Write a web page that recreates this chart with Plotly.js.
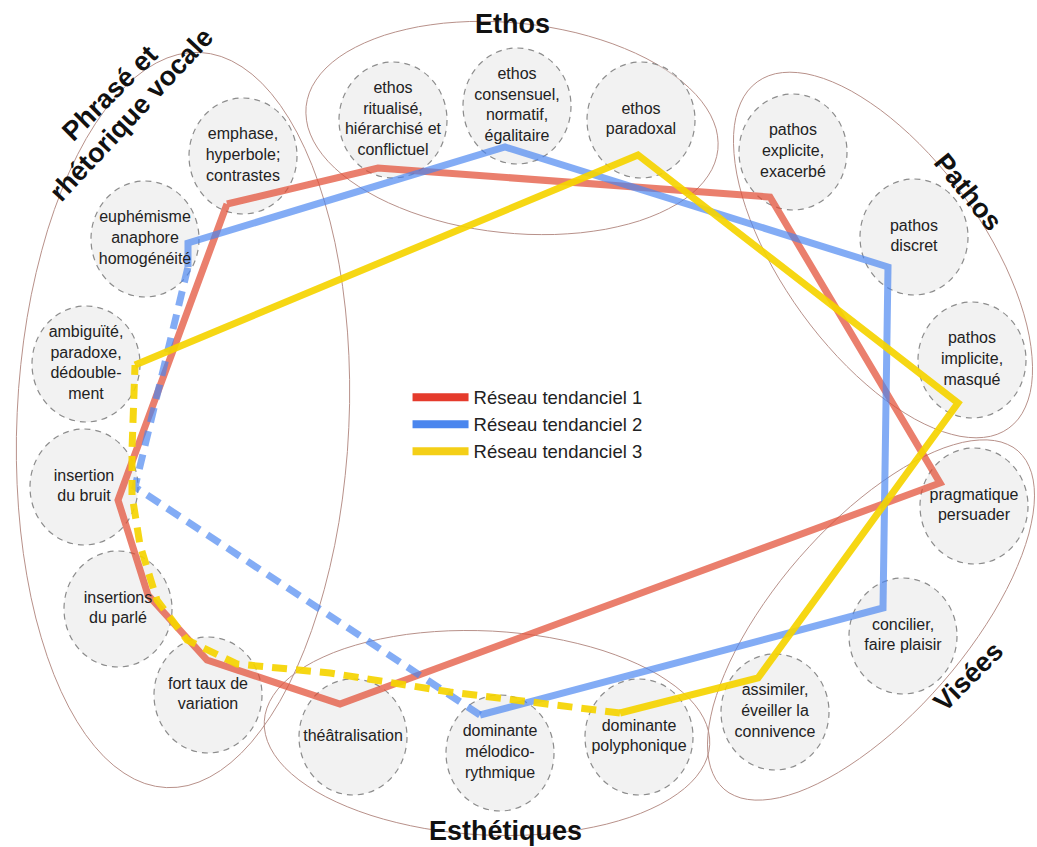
<!DOCTYPE html>
<html>
<head>
<meta charset="utf-8">
<script src="https://cdn.plot.ly/plotly-3.0.1.min.js"></script>
<style>
  html, body { margin: 0; padding: 0; background: #ffffff; }
  #chart { width: 1037px; height: 847px; }
</style>
</head>
<body>
<div id="chart"></div>
<script>
// --- nodes (the dashed blobs) ---
var nodeLabels = [
    'emphase,<br>hyperbole;<br>contrastes',
    'euphémisme<br>anaphore<br>homogénéité',
    'ambiguïté,<br>paradoxe,<br>dédouble-<br>ment',
    'insertion<br>du bruit',
    'insertions<br>du parlé',
    'fort taux de<br>variation',
    'théâtralisation',
    'dominante<br>mélodico-<br>rythmique',
    'dominante<br>polyphonique',
    'assimiler,<br>éveiller la<br>connivence',
    'concilier,<br>faire plaisir',
    'pragmatique<br>persuader',
    'pathos<br>implicite,<br>masqué',
    'pathos<br>discret',
    'pathos<br>explicite,<br>exacerbé',
    'ethos<br>paradoxal',
    'ethos<br>consensuel,<br>normatif,<br>égalitaire',
    'ethos<br>ritualisé,<br>hiérarchisé et<br>conflictuel'
];
var nodeX = [243, 145, 86, 84, 118, 208, 353, 500, 639, 775, 903, 974, 972, 914, 793, 641, 517, 393];
var nodeY = [156, 239, 364, 487, 609, 695, 737, 753, 737, 712, 636, 506, 360, 237, 152, 120, 106, 120];

// --- groups (thin ellipses) ---
var groupCx   = [183, 512, 883, 871, 487];
var groupCy   = [420, 128, 255, 620, 733];
var groupRx   = [166, 207, 214, 224, 223];
var groupRy   = [368, 105, 100, 95, 102];
var groupTilt = [2.6, 6, 54, -49, 3];

var titleText  = ['Phrasé et', 'rhétorique vocale', 'Ethos', 'Pathos', 'Visées', 'Esthétiques'];
var titleX     = [110, 131, 512, 968, 968, 505];
var titleY     = [93, 115, 24, 192, 677, 831];
var titleAngle = [-45, -47, 0, 51, -45, 0];

// --- networks ---
var seriesNames = ['Réseau tendanciel 1', 'Réseau tendanciel 2', 'Réseau tendanciel 3'];

var net1X = [227, 378, 770, 940, 340, 207, 148, 118, 227];
var net1Y = [204, 168, 197, 483, 704, 660, 595, 500, 204];

var net2SolidX = [188, 188, 505, 888, 883, 480];
var net2SolidY = [267, 243, 147, 267, 608, 715];
var net2DashX  = [480, 135, 188];
var net2DashY  = [715, 487, 267];

var net3SolidX = [135, 638, 958, 758, 620];
var net3SolidY = [365, 155, 403, 678, 713];
var net3DashX  = [620, 450, 330, 237, 187, 157, 140, 132, 132, 135];
var net3DashY  = [713, 692, 673, 664, 640, 600, 545, 495, 450, 365];

var fontFam = 'Liberation Sans, Arial, sans-serif';
var lineColours = ['rgba(226,78,52,0.72)', 'rgba(72,132,240,0.68)', 'rgba(245,212,0,0.92)'];
var legendColours = ['#e53b2c', '#4a86ee', '#f4cf17'];

function ellipsePath(cx, cy, rx, ry, deg) {
    var t = deg * Math.PI / 180;
    var pts = [];
    for (var i = 0; i <= 96; i++) {
        var a = 2 * Math.PI * i / 96;
        var ex = rx * Math.cos(a), ey = ry * Math.sin(a);
        var px = cx + ex * Math.cos(t) - ey * Math.sin(t);
        var py = cy + ex * Math.sin(t) + ey * Math.cos(t);
        pts.push((i ? 'L' : 'M') + px.toFixed(1) + ',' + py.toFixed(1));
    }
    return pts.join(' ') + ' Z';
}

var shapes = [];
for (var g = 0; g < groupCx.length; g++) {
    shapes.push({
        type: 'path', xref: 'x', yref: 'y', layer: 'below',
        path: ellipsePath(groupCx[g], groupCy[g], groupRx[g], groupRy[g], groupTilt[g]),
        line: {color: '#b8918a', width: 1}
    });
}
for (var n = 0; n < nodeX.length; n++) {
    shapes.push({
        type: 'circle', xref: 'x', yref: 'y', layer: 'below',
        x0: nodeX[n] - 54, x1: nodeX[n] + 54,
        y0: nodeY[n] - 58, y1: nodeY[n] + 58,
        fillcolor: 'rgba(226,226,226,0.45)',
        line: {color: '#8c8c8c', width: 1.2, dash: '6px,5px'}
    });
}

function netTrace(x, y, k, dashed) {
    return {
        x: x, y: y, type: 'scatter', mode: 'lines',
        showlegend: false, hoverinfo: 'skip',
        line: {color: lineColours[k], width: 7, dash: dashed ? '15px,9px' : 'solid'}
    };
}

var data = [
    netTrace(net1X, net1Y, 0, false),
    netTrace(net2SolidX, net2SolidY, 1, false),
    netTrace(net2DashX, net2DashY, 1, true),
    netTrace(net3DashX, net3DashY, 2, true),
    netTrace(net3SolidX, net3SolidY, 2, false)
];

// legend entries only
for (var k = 0; k < seriesNames.length; k++) {
    data.push({
        x: [null], y: [null], type: 'scatter', mode: 'lines',
        name: seriesNames[k], showlegend: true, hoverinfo: 'skip',
        line: {color: legendColours[k], width: 8}
    });
}

data.push({
    x: nodeX, y: nodeY, text: nodeLabels,
    type: 'scatter', mode: 'text', showlegend: false, hoverinfo: 'skip',
    textposition: 'middle center',
    textfont: {family: fontFam, size: 16, color: '#222222'}
});

var annotations = [];
for (var i = 0; i < titleText.length; i++) {
    annotations.push({
        xref: 'x', yref: 'y', x: titleX[i], y: titleY[i],
        text: titleText[i], showarrow: false, textangle: titleAngle[i],
        font: {family: fontFam, size: 27, color: '#111111', weight: 'bold'}
    });
}

var layout = {
    width: 1037, height: 847,
    margin: {l: 0, r: 0, t: 0, b: 0},
    paper_bgcolor: '#ffffff', plot_bgcolor: '#ffffff',
    showlegend: true,
    legend: {
        x: 0.393, y: 0.553, xanchor: 'left', yanchor: 'top',
        bgcolor: 'rgba(0,0,0,0)', itemwidth: 56,
        font: {family: fontFam, size: 18.5, color: '#222222'}
    },
    xaxis: {range: [0, 1037], visible: false, fixedrange: true},
    yaxis: {range: [847, 0], visible: false, fixedrange: true},
    shapes: shapes,
    annotations: annotations,
    hovermode: false
};

Plotly.newPlot('chart', data, layout, {displayModeBar: false, staticPlot: true});
</script>
</body>
</html>
